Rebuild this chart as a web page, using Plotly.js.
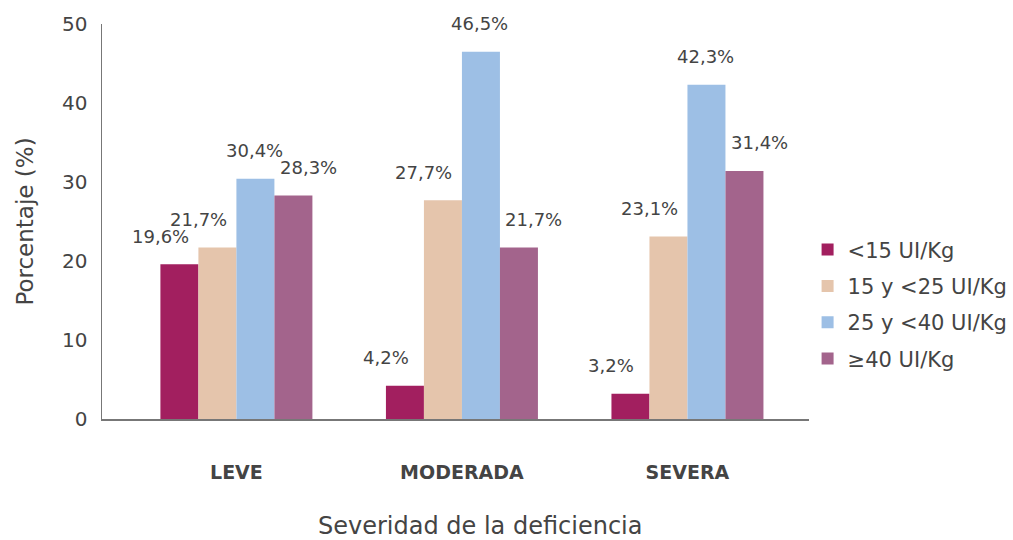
<!DOCTYPE html>
<html>
<head>
<meta charset="utf-8">
<script src="https://cdn.plot.ly/plotly-3.0.1.min.js"></script>
<style>
  html, body { margin: 0; padding: 0; background: #fff; }
  #chart { width: 1013px; height: 540px; }
</style>
</head>
<body>
<div id="chart"></div>
<script>
var categories = ['LEVE', 'MODERADA', 'SEVERA'];
var seriesNames = ['<15 UI/Kg', '15 y <25 UI/Kg', '25 y <40 UI/Kg', '≥40 UI/Kg'];
var menos15 = [19.6, 4.2, 3.2];
var de15a25 = [21.7, 27.7, 23.1];
var de25a40 = [30.4, 46.5, 42.3];
var mas40 = [28.3, 21.7, 31.4];
var labels15 = ['19,6%', '4,2%', '3,2%'];
var labels15a25 = ['21,7%', '27,7%', '23,1%'];
var labels25a40 = ['30,4%', '46,5%', '42,3%'];
var labels40 = ['28,3%', '21,7%', '31,4%'];

var colors = ['#a21f5f', '#e5c5ac', '#9dbfe5', '#a3648c'];
var series = [menos15, de15a25, de25a40, mas40];
var seriesLabels = [labels15, labels15a25, labels25a40, labels40];

var FONT = 'DejaVu Sans, sans-serif';
var TXT = '#444444';

// label offsets per series (px), the labels in the original sit a bit off-centre
var labelDx = [-19, -19, -1, 15];
var barPx = 38;

var data = [];
var annotations = [];
for (var i = 0; i < series.length; i++) {
  data.push({
    type: 'bar',
    name: seriesNames[i],
    x: categories,
    y: series[i],
    marker: {color: colors[i]},
    legendgroup: 'g' + i,
    hoverinfo: 'none'
  });
  for (var j = 0; j < categories.length; j++) {
    annotations.push({
      x: categories[j],
      y: series[i][j],
      xref: 'x',
      yref: 'y',
      text: seriesLabels[i][j],
      showarrow: false,
      xanchor: 'center',
      yanchor: 'middle',
      xshift: (i - 1.5) * barPx + labelDx[i],
      yshift: 28,
      font: {family: FONT, size: 18, color: TXT}
    });
  }
}

// x axis title, sits a little right of the plot centre in the original
annotations.push({
  text: 'Severidad de la deficiencia',
  xref: 'paper', yref: 'paper',
  x: 0.535, y: -0.271,
  xanchor: 'center', yanchor: 'middle',
  showarrow: false,
  font: {family: FONT, size: 24, color: TXT}
});

var layout = {
  width: 1013,
  height: 540,
  margin: {l: 102, r: 204, t: 24, b: 121, autoexpand: false},
  paper_bgcolor: '#fff',
  plot_bgcolor: '#fff',
  barmode: 'group',
  bargap: 0.326,
  bargroupgap: 0,
  font: {family: FONT, color: TXT},
  showlegend: true,
  legend: {
    x: 0.998,
    xanchor: 'left',
    y: 0.29,
    yanchor: 'middle',
    font: {family: FONT, size: 21, color: TXT},
    tracegroupgap: 6,
    traceorder: 'grouped'
  },
  xaxis: {
    range: [-0.596, 2.539],
    showline: true,
    linecolor: '#777',
    linewidth: 1.5,
    ticks: '',
    ticklabelstandoff: 36,
    tickfont: {family: FONT, size: 19, color: TXT, weight: 'bold'},
    fixedrange: true
  },
  yaxis: {
    range: [0, 50],
    dtick: 10,
    showline: true,
    linecolor: '#777',
    linewidth: 1.5,
    showgrid: false,
    zeroline: false,
    ticks: '',
    ticklabelstandoff: 9,
    tickfont: {family: FONT, size: 20, color: TXT},
    title: {text: 'Porcentaje (%)', font: {family: FONT, size: 23, color: TXT}, standoff: 22},
    fixedrange: true
  },
  annotations: annotations
};

Plotly.newPlot('chart', data, layout, {displayModeBar: false, staticPlot: true});
</script>
</body>
</html>
